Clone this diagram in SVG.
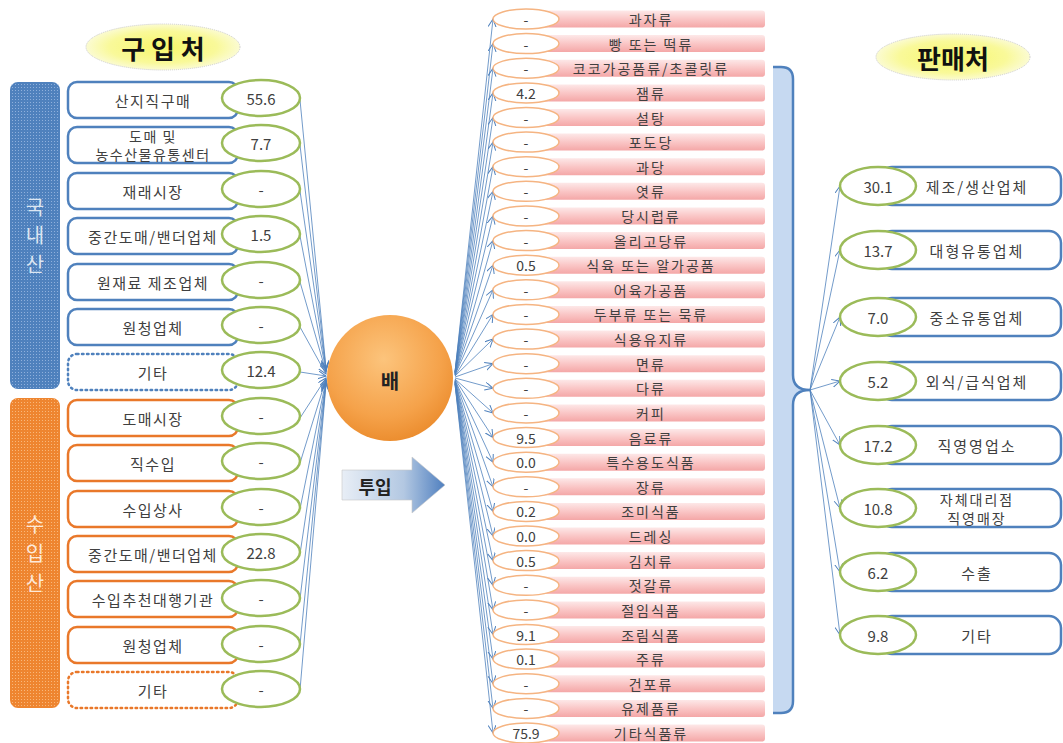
<svg xmlns="http://www.w3.org/2000/svg" width="1063" height="743" viewBox="0 0 1063 743">
<defs>
<style>
text{font-family:"Noto Sans CJK KR","Noto Sans",sans-serif;fill:#404040;text-anchor:middle;dominant-baseline:central}
.lb{fill:#fff;stroke-width:2.5}
.bl{stroke:#4f81bd}
.or{stroke:#e9782a}
.dot{stroke-dasharray:1.5 3.5;stroke-linecap:round}
.gE{fill:#fff;stroke:#9bbb59;stroke-width:2.5}
.oE{fill:#fff;stroke:#f5b482;stroke-width:1.5}
.pk{fill:url(#pink)}
.t15{font-size:15px}
.t14{font-size:14px}
.ls{letter-spacing:1.5px}
.li{letter-spacing:2px}
.vt{font-size:20px}
.cn line{stroke:#4f81bd;stroke-width:0.8;marker-end:url(#ah)}
.title{font-size:26px;font-weight:bold;fill:#111}
</style>
<marker id="ah" markerUnits="userSpaceOnUse" markerWidth="9" markerHeight="9" refX="8" refY="4" orient="auto"><path d="M0,0 L8,4 L0,8" fill="none" stroke="#4f81bd" stroke-width="1"/></marker>
<radialGradient id="yel" cx="50%" cy="50%" r="50%"><stop offset="0" stop-color="#f7f76a"/><stop offset="0.7" stop-color="#f9f99a"/><stop offset="1" stop-color="#fbfbd2"/></radialGradient>
<radialGradient id="orb" cx="45%" cy="35%" r="65%"><stop offset="0" stop-color="#fcc47c"/><stop offset="0.7" stop-color="#f5a24a"/><stop offset="1" stop-color="#ec8e30"/></radialGradient>
<linearGradient id="arr" x1="0" y1="0" x2="1" y2="0"><stop offset="0" stop-color="#e8eef6"/><stop offset="0.6" stop-color="#b3c8e2"/><stop offset="1" stop-color="#4f7fbf"/></linearGradient>
<linearGradient id="pink" x1="0" y1="0" x2="0" y2="1"><stop offset="0" stop-color="#fde8e8"/><stop offset="0.5" stop-color="#fac6c6"/><stop offset="1" stop-color="#f4a7a7"/></linearGradient>
<pattern id="pb" width="3" height="3" patternUnits="userSpaceOnUse"><rect width="3" height="3" fill="#4f81bd"/><rect width="1" height="1" fill="#8fb0dc"/></pattern>
<pattern id="po" width="3" height="3" patternUnits="userSpaceOnUse"><rect width="3" height="3" fill="#ee8530"/><rect width="1" height="1" fill="#f8b77a"/></pattern>
</defs>
<rect width="1063" height="743" fill="#fff"/>

<g id="title-left"><ellipse cx="163" cy="47" rx="77" ry="23" fill="url(#yel)" stroke="#ccc" stroke-width="1" stroke-dasharray="1 1"/><text x="163" y="47" class="title">구 입 처</text></g>
<g id="title-right"><ellipse cx="953" cy="57" rx="77" ry="23" fill="url(#yel)" stroke="#ccc" stroke-width="1" stroke-dasharray="1 1"/><text x="953" y="57" class="title">판매처</text></g>

<g id="bar-domestic"><rect x="10" y="82" width="50" height="307" rx="8" fill="url(#pb)"/>
<text x="35" y="206" class="vt" style="fill:#dce6f2">국</text><text x="35" y="234" class="vt" style="fill:#dce6f2">내</text><text x="35" y="263" class="vt" style="fill:#dce6f2">산</text></g>
<g id="bar-import"><rect x="10" y="398" width="50" height="310" rx="8" fill="url(#po)"/>
<text x="35" y="523" class="vt" style="fill:#fde9d9">수</text><text x="35" y="552" class="vt" style="fill:#fde9d9">입</text><text x="35" y="582" class="vt" style="fill:#fde9d9">산</text></g>

<g id="connectors">
<g class="cn">
<line x1="300" y1="100" x2="326" y2="368"/>
<line x1="300" y1="145" x2="326" y2="369"/>
<line x1="300" y1="191" x2="326" y2="370"/>
<line x1="300" y1="236" x2="326" y2="371"/>
<line x1="300" y1="282" x2="326" y2="372"/>
<line x1="300" y1="327" x2="326" y2="374"/>
<line x1="300" y1="372" x2="326" y2="376"/>
<line x1="300" y1="418" x2="326" y2="378"/>
<line x1="300" y1="463" x2="326" y2="379"/>
<line x1="300" y1="509" x2="326" y2="380"/>
<line x1="300" y1="554" x2="326" y2="381"/>
<line x1="300" y1="599" x2="326" y2="382"/>
<line x1="300" y1="645" x2="326" y2="383"/>
<line x1="300" y1="690" x2="326" y2="384"/>
</g>
<g class="cn" id="fan">
<line x1="455" y1="372" x2="493" y2="19"/>
<line x1="455" y1="372" x2="493" y2="43.6"/>
<line x1="455" y1="372" x2="493" y2="68.2"/>
<line x1="455" y1="373" x2="493" y2="92.9"/>
<line x1="455" y1="373" x2="493" y2="117.5"/>
<line x1="455" y1="373" x2="493" y2="142.1"/>
<line x1="455" y1="374" x2="493" y2="166.7"/>
<line x1="455" y1="374" x2="493" y2="191.3"/>
<line x1="455" y1="374" x2="493" y2="216"/>
<line x1="455" y1="375" x2="493" y2="240.6"/>
<line x1="455" y1="375" x2="493" y2="265.2"/>
<line x1="455" y1="375" x2="493" y2="289.8"/>
<line x1="455" y1="376" x2="493" y2="314.4"/>
<line x1="455" y1="376" x2="493" y2="339.1"/>
<line x1="455" y1="377" x2="493" y2="363.7"/>
<line x1="455" y1="378" x2="493" y2="388.3"/>
<line x1="455" y1="379" x2="493" y2="412.9"/>
<line x1="455" y1="379" x2="493" y2="437.5"/>
<line x1="455" y1="380" x2="493" y2="462.2"/>
<line x1="455" y1="380" x2="493" y2="486.8"/>
<line x1="455" y1="381" x2="493" y2="511.4"/>
<line x1="455" y1="381" x2="493" y2="536"/>
<line x1="455" y1="381" x2="493" y2="560.6"/>
<line x1="455" y1="382" x2="493" y2="585.3"/>
<line x1="455" y1="382" x2="493" y2="609.9"/>
<line x1="455" y1="382" x2="493" y2="634.5"/>
<line x1="455" y1="383" x2="493" y2="659.1"/>
<line x1="455" y1="383" x2="493" y2="683.7"/>
<line x1="455" y1="384" x2="493" y2="708.4"/>
<line x1="455" y1="384" x2="493" y2="733"/>
</g>
<g class="cn" id="out">
<line x1="810" y1="390" x2="840" y2="186"/>
<line x1="810" y1="390" x2="840" y2="250"/>
<line x1="810" y1="390" x2="840" y2="317"/>
<line x1="810" y1="390" x2="840" y2="381"/>
<line x1="810" y1="390" x2="840" y2="445"/>
<line x1="810" y1="390" x2="840" y2="508"/>
<line x1="810" y1="390" x2="840" y2="572"/>
<line x1="810" y1="390" x2="840" y2="635"/>
</g>
</g>

<g id="src1"><rect x="68" y="82" width="170" height="36" rx="9" class="lb bl"/><text x="153" y="100" class="t15 ls">산지직구매</text><ellipse cx="261" cy="98" rx="39" ry="18" class="gE"/><text x="261" y="98" class="t15">55.6</text></g>
<g id="src2"><rect x="68" y="127" width="170" height="36" rx="9" class="lb bl"/><text x="153" y="136" class="t14 ls">도매 및</text><text x="153" y="154" class="t14 ls">농수산물유통센터</text><ellipse cx="261" cy="143" rx="39" ry="18" class="gE"/><text x="261" y="143" class="t15">7.7</text></g>
<g id="src3"><rect x="68" y="173" width="170" height="36" rx="9" class="lb bl"/><text x="153" y="191" class="t15 ls">재래시장</text><ellipse cx="261" cy="189" rx="39" ry="18" class="gE"/><text x="261" y="189" class="t15">-</text></g>
<g id="src4"><rect x="68" y="218" width="170" height="36" rx="9" class="lb bl"/><text x="153" y="236" class="t15 ls">중간도매/밴더업체</text><ellipse cx="261" cy="234" rx="39" ry="18" class="gE"/><text x="261" y="234" class="t15">1.5</text></g>
<g id="src5"><rect x="68" y="264" width="170" height="36" rx="9" class="lb bl"/><text x="153" y="282" class="t15 ls">원재료 제조업체</text><ellipse cx="261" cy="280" rx="39" ry="18" class="gE"/><text x="261" y="280" class="t15">-</text></g>
<g id="src6"><rect x="68" y="309" width="170" height="36" rx="9" class="lb bl"/><text x="153" y="327" class="t15 ls">원청업체</text><ellipse cx="261" cy="325" rx="39" ry="18" class="gE"/><text x="261" y="325" class="t15">-</text></g>
<g id="src7"><rect x="68" y="354" width="170" height="36" rx="9" class="lb bl dot"/><text x="153" y="372" class="t15 ls">기타</text><ellipse cx="261" cy="370" rx="39" ry="18" class="gE"/><text x="261" y="370" class="t15">12.4</text></g>
<g id="src8"><rect x="68" y="400" width="170" height="36" rx="9" class="lb or"/><text x="153" y="418" class="t15 ls">도매시장</text><ellipse cx="261" cy="416" rx="39" ry="18" class="gE"/><text x="261" y="416" class="t15">-</text></g>
<g id="src9"><rect x="68" y="445" width="170" height="36" rx="9" class="lb or"/><text x="153" y="463" class="t15 ls">직수입</text><ellipse cx="261" cy="461" rx="39" ry="18" class="gE"/><text x="261" y="461" class="t15">-</text></g>
<g id="src10"><rect x="68" y="491" width="170" height="36" rx="9" class="lb or"/><text x="153" y="509" class="t15 ls">수입상사</text><ellipse cx="261" cy="507" rx="39" ry="18" class="gE"/><text x="261" y="507" class="t15">-</text></g>
<g id="src11"><rect x="68" y="536" width="170" height="36" rx="9" class="lb or"/><text x="153" y="554" class="t15 ls">중간도매/밴더업체</text><ellipse cx="261" cy="552" rx="39" ry="18" class="gE"/><text x="261" y="552" class="t15">22.8</text></g>
<g id="src12"><rect x="68" y="581" width="170" height="36" rx="9" class="lb or"/><text x="153" y="599" class="t15 ls">수입추천대행기관</text><ellipse cx="261" cy="598" rx="39" ry="18" class="gE"/><text x="261" y="598" class="t15">-</text></g>
<g id="src13"><rect x="68" y="627" width="170" height="36" rx="9" class="lb or"/><text x="153" y="645" class="t15 ls">원청업체</text><ellipse cx="261" cy="644" rx="39" ry="18" class="gE"/><text x="261" y="644" class="t15">-</text></g>
<g id="src14"><rect x="68" y="672" width="170" height="36" rx="9" class="lb or dot"/><text x="153" y="690" class="t15 ls">기타</text><ellipse cx="261" cy="689" rx="39" ry="18" class="gE"/><text x="261" y="689" class="t15">-</text></g>

<g id="pear"><circle cx="390" cy="378" r="63" fill="url(#orb)"/><text x="390" y="380" style="font-size:20px;font-weight:bold;fill:#222">배</text></g>
<g id="input-arrow"><path d="M342,470 L412,470 L412,457 L445,485 L412,513 L412,500 L342,500 Z" fill="url(#arr)" stroke="#c8c8c8" stroke-width="0.6"/><text x="375" y="486" style="font-size:18px;font-weight:bold;fill:#222">투입</text></g>

<g id="bracket"><path d="M773,67 L781,67 Q793,67 793,79 L793,375 Q793,390 810,390 Q793,390 793,405 L793,701 Q793,713 781,713 L773,713 Z" fill="#c6d9f1"/><path d="M773,67 L781,67 Q793,67 793,79 L793,375 Q793,390 810,390 Q793,390 793,405 L793,701 Q793,713 781,713 L773,713" fill="none" stroke="#4f81bd" stroke-width="2.5"/></g>

<g id="items">
<g id="i1"><rect x="530" y="10.5" width="235" height="17" rx="3" class="pk"/><ellipse cx="526" cy="19" rx="33" ry="10" class="oE"/><text x="526" y="19" class="t14">-</text><text x="651" y="19" class="t14 li">과자류</text></g>
<g id="i2"><rect x="530" y="35.1" width="235" height="17" rx="3" class="pk"/><ellipse cx="526" cy="43.6" rx="33" ry="10" class="oE"/><text x="526" y="43.6" class="t14">-</text><text x="651" y="43.6" class="t14 li">빵 또는 떡류</text></g>
<g id="i3"><rect x="530" y="59.7" width="235" height="17" rx="3" class="pk"/><ellipse cx="526" cy="68.2" rx="33" ry="10" class="oE"/><text x="526" y="68.2" class="t14">-</text><text x="651" y="68.2" class="t14 li">코코가공품류/초콜릿류</text></g>
<g id="i4"><rect x="530" y="84.4" width="235" height="17" rx="3" class="pk"/><ellipse cx="526" cy="92.9" rx="33" ry="10" class="oE"/><text x="526" y="92.9" class="t14">4.2</text><text x="651" y="92.9" class="t14 li">잼류</text></g>
<g id="i5"><rect x="530" y="109" width="235" height="17" rx="3" class="pk"/><ellipse cx="526" cy="117.5" rx="33" ry="10" class="oE"/><text x="526" y="117.5" class="t14">-</text><text x="651" y="117.5" class="t14 li">설탕</text></g>
<g id="i6"><rect x="530" y="133.6" width="235" height="17" rx="3" class="pk"/><ellipse cx="526" cy="142.1" rx="33" ry="10" class="oE"/><text x="526" y="142.1" class="t14">-</text><text x="651" y="142.1" class="t14 li">포도당</text></g>
<g id="i7"><rect x="530" y="158.2" width="235" height="17" rx="3" class="pk"/><ellipse cx="526" cy="166.7" rx="33" ry="10" class="oE"/><text x="526" y="166.7" class="t14">-</text><text x="651" y="166.7" class="t14 li">과당</text></g>
<g id="i8"><rect x="530" y="182.8" width="235" height="17" rx="3" class="pk"/><ellipse cx="526" cy="191.3" rx="33" ry="10" class="oE"/><text x="526" y="191.3" class="t14">-</text><text x="651" y="191.3" class="t14 li">엿류</text></g>
<g id="i9"><rect x="530" y="207.5" width="235" height="17" rx="3" class="pk"/><ellipse cx="526" cy="216" rx="33" ry="10" class="oE"/><text x="526" y="216" class="t14">-</text><text x="651" y="216" class="t14 li">당시럽류</text></g>
<g id="i10"><rect x="530" y="232.1" width="235" height="17" rx="3" class="pk"/><ellipse cx="526" cy="240.6" rx="33" ry="10" class="oE"/><text x="526" y="240.6" class="t14">-</text><text x="651" y="240.6" class="t14 li">올리고당류</text></g>
<g id="i11"><rect x="530" y="256.7" width="235" height="17" rx="3" class="pk"/><ellipse cx="526" cy="265.2" rx="33" ry="10" class="oE"/><text x="526" y="265.2" class="t14">0.5</text><text x="651" y="265.2" class="t14 li">식육 또는 알가공품</text></g>
<g id="i12"><rect x="530" y="281.3" width="235" height="17" rx="3" class="pk"/><ellipse cx="526" cy="289.8" rx="33" ry="10" class="oE"/><text x="526" y="289.8" class="t14">-</text><text x="651" y="289.8" class="t14 li">어육가공품</text></g>
<g id="i13"><rect x="530" y="305.9" width="235" height="17" rx="3" class="pk"/><ellipse cx="526" cy="314.4" rx="33" ry="10" class="oE"/><text x="526" y="314.4" class="t14">-</text><text x="651" y="314.4" class="t14 li">두부류 또는 묵류</text></g>
<g id="i14"><rect x="530" y="330.6" width="235" height="17" rx="3" class="pk"/><ellipse cx="526" cy="339.1" rx="33" ry="10" class="oE"/><text x="526" y="339.1" class="t14">-</text><text x="651" y="339.1" class="t14 li">식용유지류</text></g>
<g id="i15"><rect x="530" y="355.2" width="235" height="17" rx="3" class="pk"/><ellipse cx="526" cy="363.7" rx="33" ry="10" class="oE"/><text x="526" y="363.7" class="t14">-</text><text x="651" y="363.7" class="t14 li">면류</text></g>
<g id="i16"><rect x="530" y="379.8" width="235" height="17" rx="3" class="pk"/><ellipse cx="526" cy="388.3" rx="33" ry="10" class="oE"/><text x="526" y="388.3" class="t14">-</text><text x="651" y="388.3" class="t14 li">다류</text></g>
<g id="i17"><rect x="530" y="404.4" width="235" height="17" rx="3" class="pk"/><ellipse cx="526" cy="412.9" rx="33" ry="10" class="oE"/><text x="526" y="412.9" class="t14">-</text><text x="651" y="412.9" class="t14 li">커피</text></g>
<g id="i18"><rect x="530" y="429" width="235" height="17" rx="3" class="pk"/><ellipse cx="526" cy="437.5" rx="33" ry="10" class="oE"/><text x="526" y="437.5" class="t14">9.5</text><text x="651" y="437.5" class="t14 li">음료류</text></g>
<g id="i19"><rect x="530" y="453.7" width="235" height="17" rx="3" class="pk"/><ellipse cx="526" cy="462.2" rx="33" ry="10" class="oE"/><text x="526" y="462.2" class="t14">0.0</text><text x="651" y="462.2" class="t14 li">특수용도식품</text></g>
<g id="i20"><rect x="530" y="478.3" width="235" height="17" rx="3" class="pk"/><ellipse cx="526" cy="486.8" rx="33" ry="10" class="oE"/><text x="526" y="486.8" class="t14">-</text><text x="651" y="486.8" class="t14 li">장류</text></g>
<g id="i21"><rect x="530" y="502.9" width="235" height="17" rx="3" class="pk"/><ellipse cx="526" cy="511.4" rx="33" ry="10" class="oE"/><text x="526" y="511.4" class="t14">0.2</text><text x="651" y="511.4" class="t14 li">조미식품</text></g>
<g id="i22"><rect x="530" y="527.5" width="235" height="17" rx="3" class="pk"/><ellipse cx="526" cy="536" rx="33" ry="10" class="oE"/><text x="526" y="536" class="t14">0.0</text><text x="651" y="536" class="t14 li">드레싱</text></g>
<g id="i23"><rect x="530" y="552.1" width="235" height="17" rx="3" class="pk"/><ellipse cx="526" cy="560.6" rx="33" ry="10" class="oE"/><text x="526" y="560.6" class="t14">0.5</text><text x="651" y="560.6" class="t14 li">김치류</text></g>
<g id="i24"><rect x="530" y="576.8" width="235" height="17" rx="3" class="pk"/><ellipse cx="526" cy="585.3" rx="33" ry="10" class="oE"/><text x="526" y="585.3" class="t14">-</text><text x="651" y="585.3" class="t14 li">젓갈류</text></g>
<g id="i25"><rect x="530" y="601.4" width="235" height="17" rx="3" class="pk"/><ellipse cx="526" cy="609.9" rx="33" ry="10" class="oE"/><text x="526" y="609.9" class="t14">-</text><text x="651" y="609.9" class="t14 li">절임식품</text></g>
<g id="i26"><rect x="530" y="626" width="235" height="17" rx="3" class="pk"/><ellipse cx="526" cy="634.5" rx="33" ry="10" class="oE"/><text x="526" y="634.5" class="t14">9.1</text><text x="651" y="634.5" class="t14 li">조림식품</text></g>
<g id="i27"><rect x="530" y="650.6" width="235" height="17" rx="3" class="pk"/><ellipse cx="526" cy="659.1" rx="33" ry="10" class="oE"/><text x="526" y="659.1" class="t14">0.1</text><text x="651" y="659.1" class="t14 li">주류</text></g>
<g id="i28"><rect x="530" y="675.2" width="235" height="17" rx="3" class="pk"/><ellipse cx="526" cy="683.7" rx="33" ry="10" class="oE"/><text x="526" y="683.7" class="t14">-</text><text x="651" y="683.7" class="t14 li">건포류</text></g>
<g id="i29"><rect x="530" y="699.9" width="235" height="17" rx="3" class="pk"/><ellipse cx="526" cy="708.4" rx="33" ry="10" class="oE"/><text x="526" y="708.4" class="t14">-</text><text x="651" y="708.4" class="t14 li">유제품류</text></g>
<g id="i30"><rect x="530" y="724.5" width="235" height="17" rx="3" class="pk"/><ellipse cx="526" cy="733" rx="33" ry="10" class="oE"/><text x="526" y="733" class="t14">75.9</text><text x="651" y="733" class="t14 li">기타식품류</text></g>
</g>

<g id="dst1"><rect x="880" y="167" width="181" height="38" rx="12" class="lb bl"/><ellipse cx="878" cy="186" rx="38" ry="19" class="gE"/><text x="878" y="186" class="t15">30.1</text><text x="977" y="186" class="t15 li">제조/생산업체</text></g>
<g id="dst2"><rect x="880" y="231" width="181" height="38" rx="12" class="lb bl"/><ellipse cx="878" cy="250" rx="38" ry="19" class="gE"/><text x="878" y="250" class="t15">13.7</text><text x="977" y="250" class="t15 li">대형유통업체</text></g>
<g id="dst3"><rect x="880" y="298" width="181" height="38" rx="12" class="lb bl"/><ellipse cx="878" cy="317" rx="38" ry="19" class="gE"/><text x="878" y="317" class="t15">7.0</text><text x="977" y="317" class="t15 li">중소유통업체</text></g>
<g id="dst4"><rect x="880" y="362" width="181" height="38" rx="12" class="lb bl"/><ellipse cx="878" cy="381" rx="38" ry="19" class="gE"/><text x="878" y="381" class="t15">5.2</text><text x="977" y="381" class="t15 li">외식/급식업체</text></g>
<g id="dst5"><rect x="880" y="426" width="181" height="38" rx="12" class="lb bl"/><ellipse cx="878" cy="445" rx="38" ry="19" class="gE"/><text x="878" y="445" class="t15">17.2</text><text x="977" y="445" class="t15 li">직영영업소</text></g>
<g id="dst6"><rect x="880" y="489" width="181" height="38" rx="12" class="lb bl"/><ellipse cx="878" cy="508" rx="38" ry="19" class="gE"/><text x="878" y="508" class="t15">10.8</text><text x="977" y="499" class="t14 li">자체대리점</text><text x="977" y="518" class="t14 li">직영매장</text></g>
<g id="dst7"><rect x="880" y="553" width="181" height="38" rx="12" class="lb bl"/><ellipse cx="878" cy="572" rx="38" ry="19" class="gE"/><text x="878" y="572" class="t15">6.2</text><text x="977" y="572" class="t15 li">수출</text></g>
<g id="dst8"><rect x="880" y="616" width="181" height="38" rx="12" class="lb bl"/><ellipse cx="878" cy="635" rx="38" ry="19" class="gE"/><text x="878" y="635" class="t15">9.8</text><text x="977" y="635" class="t15 li">기타</text></g>
</svg>
